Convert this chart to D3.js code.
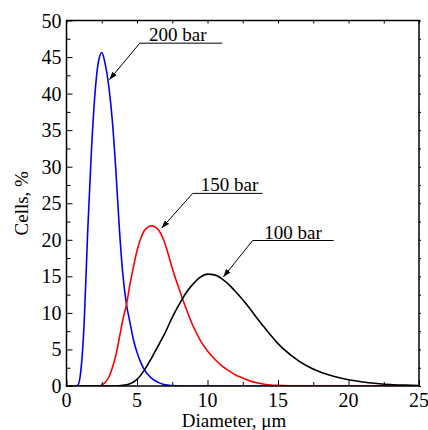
<!DOCTYPE html>
<html>
<head>
<meta charset="utf-8">
<script src="https://cdn.jsdelivr.net/npm/d3@7"></script>
<style>
  html, body { margin: 0; padding: 0; background: #fff; }
  svg { display: block; }
</style>
</head>
<body>
<svg id="chart" width="428" height="430"></svg>
<script>
// Size distributions of cells (Cells, %) against diameter for three pressures
const diam200 = [0, 0.6, 0.8, 1.0, 1.25, 1.5, 1.75, 2.0, 2.25, 2.5, 2.75, 3.0, 3.25, 3.5, 3.75, 4.0, 4.25, 4.5, 4.75, 5.0, 5.25, 5.5, 6.0, 6.5, 7.0, 7.5, 8.0, 9.0, 25];
const cells200 = [0, 0, 0.1, 1.8, 8.5, 21, 31.5, 39.5, 44.2, 45.6, 44.0, 41.0, 36.3, 29.5, 21.5, 15.2, 11.2, 8.7, 6.3, 4.6, 3.3, 2.3, 1.1, 0.5, 0.15, 0.05, 0, 0, 0];

const diam150 = [0, 2.3, 2.5, 2.75, 3.0, 3.25, 3.5, 3.75, 4.0, 4.25, 4.5, 4.75, 5.0, 5.25, 5.5, 5.75, 6.0, 6.25, 6.5, 6.75, 7.0, 7.25, 7.5, 7.75, 8.0, 8.5, 9.0, 9.5, 10, 10.5, 11, 11.5, 12, 12.5, 13, 13.5, 14, 15, 16, 17, 25];
const cells150 = [0, 0, 0.1, 0.5, 1.2, 2.5, 4.2, 6.6, 9.1, 11.1, 13.9, 16.3, 18.5, 20.1, 21.2, 21.7, 21.9, 21.8, 21.4, 20.6, 19.4, 17.8, 16.1, 14.6, 13.2, 10.5, 8.1, 6.2, 4.8, 3.7, 2.8, 2.1, 1.5, 1.1, 0.7, 0.45, 0.25, 0.08, 0.02, 0, 0];

const diam100 = [0, 3.5, 4.0, 4.5, 5.0, 5.5, 6.0, 6.5, 7.0, 7.5, 8.0, 8.5, 9.0, 9.5, 10.0, 10.5, 11.0, 11.5, 12.0, 12.5, 13.0, 13.5, 14.0, 14.5, 15.0, 16.0, 17.0, 18.0, 19.0, 20.0, 21, 22, 23, 24, 25];
const cells100 = [0, 0, 0.1, 0.3, 0.9, 2.1, 3.7, 5.5, 7.3, 9.4, 11.2, 12.8, 14.0, 14.9, 15.3, 15.2, 14.7, 13.9, 12.9, 11.8, 10.6, 9.3, 8.1, 6.9, 5.8, 4.1, 2.8, 1.9, 1.3, 0.85, 0.55, 0.35, 0.2, 0.12, 0.07];

const seriesNames = ["200 bar", "150 bar", "100 bar"];
const seriesColors = ["#0000ff", "#ff0000", "#000000"];

const xTicks = [0, 5, 10, 15, 20, 25];
const yTicks = [0, 5, 10, 15, 20, 25, 30, 35, 40, 45, 50];

const xTitle = "Diameter, \u03bcm";
const yTitle = "Cells, %";

// Callout geometry, in data units: arrow tip, elbow, end of the underline, label start
const callouts = [
  { name: seriesNames[0], tip: [3.04, 41.9], elbow: [5.2, 46.9], end: 11.05, label: 5.85 },
  { name: seriesNames[1], tip: [6.75, 21.6], elbow: [8.95, 26.35], end: 13.9, label: 9.52 },
  { name: seriesNames[2], tip: [11.12, 14.9], elbow: [13.2, 19.9], end: 18.95, label: 14.03 }
];

(function draw() {
  const svg = d3.select("#chart");
  const font = "\"Liberation Serif\"";
  const pL = 66.5, pR = 419, pT = 20.5, pB = 386;

  const x = d3.scaleLinear().domain([0, 25]).range([pL, pR]);
  const y = d3.scaleLinear().domain([0, 50]).range([pB, pT]);

  const defs = svg.append("defs");
  defs.append("clipPath").attr("id", "plotClip")
    .append("rect").attr("x", pL).attr("y", pT)
    .attr("width", pR - pL).attr("height", pB - pT);
  defs.append("marker").attr("id", "arrowHead")
    .attr("viewBox", "0 0 10 10").attr("refX", 10).attr("refY", 5)
    .attr("markerWidth", 8).attr("markerHeight", 8)
    .attr("markerUnits", "userSpaceOnUse")
    .attr("orient", "auto")
    .append("path").attr("d", "M0,1.5 L10,5 L0,8.5 Z").attr("fill", "#000");

  // Curves
  const series = [
    { xs: diam200, ys: cells200 },
    { xs: diam150, ys: cells150 },
    { xs: diam100, ys: cells100 }
  ];
  const line = d3.line()
    .x(d => x(d[0])).y(d => y(d[1]))
    .curve(d3.curveMonotoneX);

  const curves = svg.append("g").attr("clip-path", "url(#plotClip)");
  series.forEach((s, i) => {
    curves.append("path")
      .datum(s.xs.map((v, j) => [v, s.ys[j]]))
      .attr("fill", "none")
      .attr("stroke", seriesColors[i])
      .attr("stroke-width", 1.6)
      .attr("d", line);
  });

  // Axes with inward ticks: long ticks at the labelled values, short ones between
  const stepX = d3.range(0, 25.01, 2.5);
  const stepY = d3.range(0, 50.01, 2.5);
  const isMajor = v => Math.abs(v / 5 - Math.round(v / 5)) < 1e-6;

  const gB = svg.append("g").attr("transform", `translate(0,${pB})`)
    .call(d3.axisBottom(x).tickValues(stepX).tickSize(0).tickFormat(""));
  gB.select(".domain").remove();
  gB.selectAll(".tick line").attr("y2", d => isMajor(d) ? -6 : -4).attr("stroke", "#000");

  const gL = svg.append("g").attr("transform", `translate(${pL},0)`)
    .call(d3.axisLeft(y).tickValues(stepY).tickSize(0).tickFormat(""));
  gL.select(".domain").remove();
  gL.selectAll(".tick line").attr("x2", d => isMajor(d) ? 6 : 4).attr("stroke", "#000");

  const gT = svg.append("g").attr("transform", `translate(0,${pT})`)
    .call(d3.axisTop(x).tickValues(stepX).tickSize(0).tickFormat(""));
  gT.select(".domain").remove();
  gT.selectAll(".tick line").attr("y2", 3).attr("stroke", "#000");

  const gR = svg.append("g").attr("transform", `translate(${pR},0)`)
    .call(d3.axisRight(y).tickValues(stepY).tickSize(0).tickFormat(""));
  gR.select(".domain").remove();
  gR.selectAll(".tick line").attr("x2", 2).attr("stroke", "#000");

  // Frame
  svg.append("rect")
    .attr("x", pL).attr("y", pT)
    .attr("width", pR - pL).attr("height", pB - pT)
    .attr("fill", "none").attr("stroke", "#000").attr("stroke-width", 1.5);

  // Tick labels
  svg.append("g").selectAll("text").data(xTicks).join("text")
    .attr("x", d => x(d)).attr("y", pB + 21)
    .attr("text-anchor", "middle")
    .style("font-family", font)
    .attr("font-size", 20).attr("fill", "#000")
    .text(d => d);

  svg.append("g").selectAll("text").data(yTicks).join("text")
    .attr("x", pL - 5).attr("y", d => y(d))
    .attr("dy", "0.35em")
    .attr("text-anchor", "end")
    .style("font-family", font)
    .attr("font-size", 20).attr("fill", "#000")
    .text(d => d);

  // Axis titles
  svg.append("text")
    .attr("x", 234).attr("y", 427)
    .attr("text-anchor", "middle")
    .style("font-family", font)
    .attr("font-size", 19).attr("fill", "#000")
    .text(xTitle);

  svg.append("text")
    .attr("transform", `translate(28,${(pT + pB) / 2}) rotate(-90)`)
    .attr("text-anchor", "middle")
    .style("font-family", font)
    .attr("font-size", 19).attr("fill", "#000")
    .text(yTitle);

  // Callouts: arrow from the underline elbow to the curve, label on the underline
  const gC = svg.append("g");
  callouts.forEach(c => {
    const ex = x(c.elbow[0]), ey = y(c.elbow[1]);
    gC.append("line")
      .attr("x1", ex).attr("y1", ey)
      .attr("x2", x(c.end)).attr("y2", ey)
      .attr("stroke", "#000").attr("stroke-width", 1);
    gC.append("line")
      .attr("x1", ex).attr("y1", ey)
      .attr("x2", x(c.tip[0])).attr("y2", y(c.tip[1]))
      .attr("stroke", "#000").attr("stroke-width", 1)
      .attr("marker-end", "url(#arrowHead)");
    gC.append("text")
      .attr("x", x(c.label)).attr("y", ey - 2)
      .attr("text-anchor", "start")
      .style("font-family", font)
      .attr("font-size", 19).attr("fill", "#000")
      .text(c.name);
  });
})();
</script>
</body>
</html>
